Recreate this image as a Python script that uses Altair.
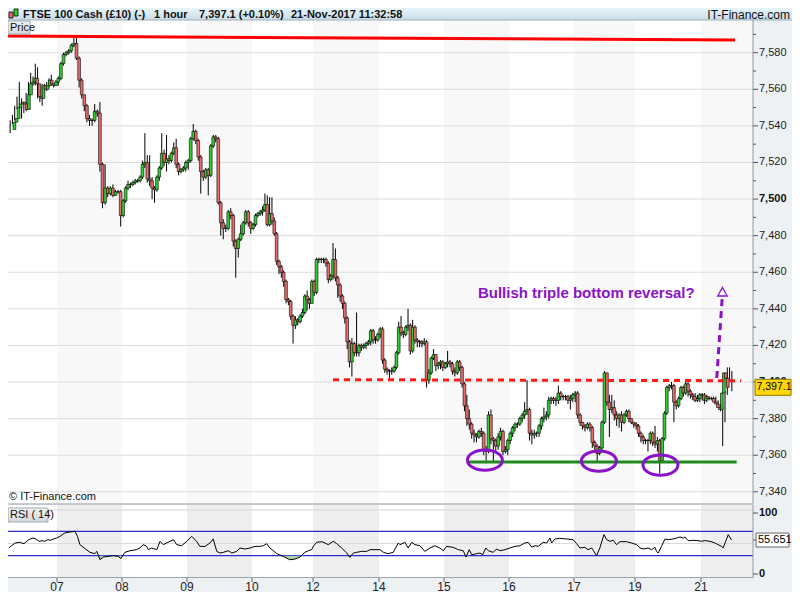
import altair as alt
import pandas as pd

FONT = "Liberation Sans"
PURPLE = "#8a12c8"

# ---------------- text ----------------
header_left = ["FTSE 100 Cash (£10) (-)", "1 hour", "7,397.1 (+0.10%)", "21-Nov-2017 11:32:58"]
header_right = "IT-Finance.com"
panel_price = "Price"
panel_rsi = "RSI ( 14)"
copyright_text = "\u00a9 IT-Finance.com"
note_text = "Bullish triple bottom reversal?"
last_price = 7397.1
last_price_text = "7,397.1"
last_rsi = 55.651
last_rsi_text = "55.651"

# ---------------- hourly candles, one list per day ----------------
day_labels = ["06", "07", "08", "09", "10", "12", "14", "15", "16", "17", "19", "21"]
first_open = 7538

close_06 = [7542, 7544, 7550, 7552, 7553, 7552, 7549, 7557, 7563, 7564, 7566, 7563, 7556, 7555, 7562, 7560, 7562, 7565, 7563, 7562, 7564]
high_06 = [7543, 7546, 7551, 7556, 7564, 7555, 7553, 7558, 7564, 7569, 7567, 7574, 7572, 7562, 7563, 7563, 7564, 7566, 7568, 7563, 7565]
low_06 = [7536, 7541, 7543, 7549, 7550, 7544, 7547, 7548, 7556, 7561, 7562, 7562, 7555, 7553, 7551, 7558, 7559, 7561, 7562, 7561, 7562]

close_07 = [7566, 7574, 7579, 7580, 7581, 7584, 7585, 7577, 7565, 7557, 7551, 7544, 7543, 7543, 7548, 7547, 7519, 7498, 7506, 7503, 7506, 7502, 7504, 7504, 7491]
high_07 = [7567, 7575, 7580, 7581, 7582, 7585, 7589, 7589, 7578, 7566, 7557, 7552, 7546, 7544, 7552, 7549, 7553, 7520, 7519, 7507, 7507, 7508, 7505, 7505, 7505]
low_07 = [7562, 7565, 7573, 7578, 7579, 7580, 7583, 7576, 7561, 7555, 7548, 7542, 7540, 7540, 7542, 7545, 7515, 7495, 7497, 7501, 7502, 7501, 7502, 7503, 7485]

close_08 = [7499, 7506, 7508, 7508, 7509, 7510, 7510, 7512, 7519, 7520, 7511, 7510, 7506, 7505, 7512, 7517, 7525, 7520, 7522, 7521, 7525, 7528, 7519, 7515, 7516, 7517, 7520]
high_08 = [7500, 7507, 7510, 7509, 7510, 7511, 7511, 7513, 7521, 7536, 7524, 7524, 7512, 7507, 7513, 7518, 7536, 7527, 7535, 7524, 7526, 7531, 7533, 7520, 7517, 7518, 7521]
low_08 = [7490, 7498, 7505, 7506, 7507, 7508, 7509, 7509, 7511, 7517, 7509, 7507, 7500, 7498, 7504, 7510, 7516, 7518, 7515, 7519, 7520, 7524, 7517, 7513, 7514, 7515, 7515]

close_09 = [7521, 7533, 7537, 7532, 7523, 7515, 7512, 7516, 7513, 7529, 7534, 7533, 7498, 7487, 7484, 7484, 7493, 7491, 7477, 7473, 7478, 7481, 7487, 7493, 7487, 7484]
high_09 = [7522, 7534, 7541, 7538, 7533, 7524, 7516, 7517, 7517, 7530, 7535, 7535, 7534, 7499, 7489, 7486, 7494, 7495, 7492, 7478, 7479, 7486, 7488, 7494, 7494, 7488]
low_09 = [7516, 7520, 7532, 7530, 7521, 7503, 7510, 7511, 7502, 7512, 7528, 7531, 7497, 7480, 7478, 7482, 7483, 7489, 7474, 7457, 7468, 7477, 7480, 7486, 7485, 7481]

close_10 = [7486, 7491, 7492, 7493, 7494, 7497, 7486, 7492, 7488, 7481, 7466, 7463, 7460, 7455, 7445, 7444, 7436, 7431, 7434, 7433, 7436, 7438, 7447, 7445, 7443, 7455]
high_10 = [7487, 7492, 7493, 7494, 7496, 7503, 7502, 7501, 7501, 7490, 7482, 7467, 7464, 7461, 7456, 7446, 7445, 7437, 7436, 7435, 7437, 7440, 7448, 7450, 7446, 7456]
low_10 = [7483, 7485, 7490, 7491, 7491, 7493, 7485, 7485, 7486, 7480, 7464, 7459, 7457, 7452, 7443, 7442, 7434, 7421, 7429, 7431, 7432, 7435, 7437, 7439, 7440, 7443]

close_12 = [7449, 7467, 7467, 7467, 7467, 7465, 7456, 7458, 7467, 7457, 7453, 7447, 7443, 7435, 7422, 7411, 7421, 7416, 7416, 7420, 7419, 7420, 7421, 7422, 7428, 7423, 7423, 7426]
high_12 = [7456, 7468, 7468, 7468, 7468, 7468, 7466, 7459, 7476, 7473, 7458, 7454, 7448, 7444, 7436, 7423, 7424, 7422, 7438, 7421, 7421, 7421, 7422, 7423, 7429, 7429, 7425, 7427]
low_12 = [7447, 7448, 7465, 7465, 7465, 7463, 7454, 7455, 7456, 7455, 7446, 7444, 7440, 7432, 7418, 7408, 7403, 7414, 7414, 7414, 7417, 7418, 7418, 7420, 7420, 7421, 7421, 7422]

close_14 = [7429, 7412, 7407, 7406, 7406, 7406, 7408, 7416, 7430, 7427, 7426, 7430, 7431, 7417, 7430, 7423, 7422, 7422, 7421, 7422, 7401, 7405, 7413, 7415, 7409, 7410, 7411, 7408]
high_14 = [7430, 7430, 7413, 7408, 7407, 7408, 7409, 7417, 7433, 7436, 7428, 7431, 7440, 7432, 7434, 7431, 7424, 7423, 7423, 7424, 7423, 7407, 7414, 7418, 7415, 7411, 7412, 7412]
low_14 = [7424, 7410, 7405, 7404, 7402, 7404, 7405, 7407, 7415, 7425, 7424, 7425, 7428, 7415, 7416, 7421, 7419, 7419, 7419, 7420, 7397, 7399, 7404, 7412, 7406, 7407, 7407, 7406]

close_15 = [7410, 7411, 7410, 7406, 7405, 7411, 7408, 7399, 7387, 7380, 7377, 7372, 7371, 7370, 7373, 7372, 7363, 7362, 7382, 7369, 7368, 7365, 7370, 7373, 7362, 7363, 7368]
high_15 = [7411, 7417, 7412, 7411, 7408, 7412, 7412, 7409, 7400, 7393, 7385, 7378, 7374, 7372, 7374, 7375, 7373, 7365, 7384, 7385, 7370, 7369, 7372, 7375, 7374, 7365, 7369]
low_15 = [7407, 7408, 7408, 7404, 7403, 7404, 7406, 7397, 7384, 7376, 7374, 7369, 7367, 7367, 7369, 7370, 7360, 7357, 7361, 7366, 7356, 7362, 7363, 7368, 7360, 7361, 7360]

close_16 = [7372, 7375, 7377, 7377, 7380, 7382, 7384, 7385, 7372, 7371, 7372, 7372, 7376, 7380, 7381, 7382, 7390, 7391, 7390, 7390, 7394, 7392, 7392, 7392, 7390, 7391, 7393]
high_16 = [7373, 7376, 7378, 7378, 7381, 7383, 7389, 7401, 7386, 7374, 7374, 7373, 7377, 7381, 7386, 7384, 7392, 7392, 7392, 7392, 7398, 7395, 7393, 7393, 7393, 7393, 7394]
low_16 = [7366, 7370, 7373, 7375, 7376, 7378, 7380, 7382, 7368, 7366, 7369, 7370, 7370, 7374, 7378, 7379, 7380, 7388, 7388, 7387, 7388, 7390, 7390, 7390, 7388, 7385, 7389]

close_17 = [7394, 7382, 7378, 7376, 7375, 7377, 7375, 7367, 7365, 7361, 7364, 7378, 7405, 7389, 7385, 7386, 7382, 7380, 7382, 7378, 7382, 7384, 7380, 7378, 7377]
high_17 = [7395, 7395, 7383, 7378, 7377, 7378, 7378, 7376, 7368, 7366, 7365, 7379, 7406, 7405, 7393, 7393, 7390, 7384, 7383, 7384, 7383, 7385, 7385, 7380, 7378]
low_17 = [7389, 7380, 7376, 7374, 7373, 7374, 7373, 7364, 7362, 7356, 7360, 7362, 7377, 7387, 7370, 7383, 7379, 7376, 7375, 7373, 7377, 7381, 7378, 7377, 7375]

close_19 = [7376, 7372, 7370, 7368, 7368, 7368, 7372, 7367, 7366, 7368, 7357, 7369, 7383, 7397, 7398, 7398, 7389, 7387, 7391, 7397, 7394, 7399, 7395, 7393, 7392, 7390, 7391, 7393]
high_19 = [7378, 7377, 7373, 7371, 7369, 7369, 7373, 7373, 7376, 7370, 7369, 7370, 7384, 7398, 7399, 7400, 7399, 7390, 7392, 7398, 7398, 7400, 7400, 7396, 7394, 7394, 7393, 7394]
low_19 = [7374, 7370, 7367, 7366, 7366, 7362, 7366, 7365, 7364, 7362, 7350, 7356, 7368, 7382, 7395, 7396, 7378, 7385, 7386, 7390, 7392, 7393, 7392, 7391, 7390, 7389, 7389, 7389]

close_21 = [7393, 7390, 7392, 7391, 7391, 7391, 7389, 7388, 7386, 7385, 7394, 7405, 7402, 7397.1]
high_21 = [7394, 7394, 7393, 7392, 7392, 7392, 7392, 7390, 7388, 7387, 7395, 7408, 7408, 7406]
low_21 = [7390, 7388, 7389, 7390, 7390, 7390, 7388, 7386, 7384, 7365, 7378, 7393, 7400, 7395]

days = [
    (close_06, high_06, low_06), (close_07, high_07, low_07), (close_08, high_08, low_08),
    (close_09, high_09, low_09), (close_10, high_10, low_10), (close_12, high_12, low_12),
    (close_14, high_14, low_14), (close_15, high_15, low_15), (close_16, high_16, low_16),
    (close_17, high_17, low_17), (close_19, high_19, low_19), (close_21, high_21, low_21),
]

# ---------------- RSI(14) (hour index, value) ----------------
rsi_hour_a = [0, 0.7, 2.6, 4.4, 6.2, 8.1, 9.9, 11.1, 12.4, 13.6, 14.8, 16, 17.2, 18.4, 19.7, 20.9, 22.7, 24.6, 26.4, 27.3,
              28.2, 30.1, 31.9, 33.7, 34.4, 35.6, 36.8, 38.6, 40.4, 42.3, 43.2, 44.7, 46.6, 49, 50.2, 51.4, 52.7, 53.3, 54.5, 56.4,
              57.6, 58.8, 60, 62.5, 63.7, 65.5, 67.4, 69.2, 71, 72.2, 74.1, 75.9, 77.1, 78.4, 79.6, 80.8, 82.6, 83.9, 85.7, 86.9,
              88.7, 90.6, 92.4, 94.2, 95.5, 96.7, 97.9, 100.4, 102.8, 105.2, 107.1, 108.9, 110.7, 112, 113.2, 113.8, 115, 116.9, 118.1, 119.3,
              121.1, 122.4, 124.2, 126.1, 127.2, 128.5, 129.7, 131.5, 133.4, 134.6, 136.4, 138.3, 139.5, 141.3, 143.1, 145]
rsi_val_a = [42.6, 45.3, 50.8, 51.9, 49.7, 56.3, 59, 57.4, 53.6, 54.7, 53.6, 56.3, 55.2, 57.4, 59, 61.8, 67.3, 68.9, 70, 61.8,
             48.1, 41.5, 35.5, 33.3, 37.1, 23.4, 27.8, 28.9, 30, 28.9, 25.1, 35.5, 38.2, 39.9, 42.6, 48.1, 45.3, 39.9, 42.6, 39.9,
             53.6, 48.1, 50.8, 56.3, 48.1, 46.4, 53.6, 61.8, 53.6, 45.3, 45.3, 50.8, 57.4, 37.1, 34.4, 35.5, 38.2, 34.4, 37.1, 42.6,
             41, 42.6, 45.3, 45.3, 46.4, 49.7, 42.6, 33.3, 28.9, 23.4, 24.5, 27.8, 35.5, 38.2, 39.9, 45.3, 51.9, 53, 50.8, 48.1,
             53.6, 49.7, 42.6, 34.4, 27.3, 34.4, 35.5, 37.1, 37.1, 39.9, 39.9, 39.9, 35.5, 33.3, 35.5, 50.8]
rsi_hour_b = [145.6, 147.4, 148.6, 149.9, 151.1, 152.9, 154.7, 156.6, 158.4, 160.2, 161.5, 162.7, 165.1, 167, 168.8, 169.8, 171, 171.9, 173.7, 174.9,
              175.9, 177.1, 178, 179.8, 181, 182.3, 184.1, 185.9, 187.8, 189.6, 191.4, 192.6, 193.9, 195.1, 196.3, 198.1, 199.4, 200.6, 201.2, 202.4,
              204.2, 206.7, 209.1, 210.4, 211.6, 213.4, 214.6, 215.9, 216.5, 217.7, 218.9, 220.4, 221.4, 222.6, 223.8, 225, 226.3, 228.7, 230.5, 232.4,
              233.6, 234.8, 236.6, 237.9, 239.1, 239.7, 240.3, 241.5, 242.8, 244, 245.8, 247.1, 248.3, 249.5, 250.1, 251.3, 253.1, 255, 256.2, 257.4,
              259.3, 261.1, 262.3, 263.6, 264.1, 266, 267.2]
rsi_val_b = [48.1, 51.9, 42.6, 51.9, 48.1, 46.4, 37.1, 42.6, 46.4, 42.6, 38.2, 45.3, 43.7, 39.9, 38.2, 27.8, 39.9, 31.6, 33.3, 34.4,
             31.6, 42.6, 38.2, 35.5, 41, 38.2, 39.9, 42.6, 45.3, 46.4, 50.8, 51.9, 44.2, 46.4, 45.3, 51.9, 50.8, 59, 50.8, 57.4,
             58.5, 57.4, 56.3, 49.7, 42.6, 43.7, 39.9, 42.6, 38.8, 30, 42.6, 64.5, 56.3, 53.6, 55.2, 48.1, 53, 53, 50.8, 48.1,
             42.6, 41, 42.6, 39.9, 43.7, 37.1, 34.4, 45.3, 57.4, 56.3, 57.4, 59, 60.7, 59, 60.7, 54.7, 55.2, 54.7, 53.6, 54.7,
             53.6, 50.8, 48.1, 45.3, 42.6, 64.5, 55.7]

# ---------------- axis values ----------------
price_levels = [7340, 7360, 7380, 7400, 7420, 7440, 7460, 7480, 7500, 7520, 7540, 7560, 7580]
price_minor = [7350, 7370, 7390, 7410, 7430, 7450, 7470, 7490, 7510, 7530, 7550, 7570, 7590]
rsi_bounds = [30, 70]
rsi_mid = [50]
rsi_ticks = [0, 100]

# ---------------- annotations (candle slot, price) ----------------
top_line_slot = [-0.4, 302.9]
top_line_price = [7589.1, 7586.9]
neck_slot = [133.5, 305.5]
neck_price = [7401.3, 7400.7]
base_slot = [190.6, 303.6]
base_price = [7356.3, 7356.3]
circle_slot = [198.0, 245.2, 270.8]
circle_price = [7357.3, 7356.8, 7354.6]
arrow_slot = [294.9, 297.3]
arrow_price = [7402.2, 7446.4]
arrow_head_slot = [297.4]
arrow_head_price = [7449.1]
note_slot = [195.1]
note_price = [7448.6]

# ---------------- tables ----------------
rows = []
prev = first_open
n = 0
seg_edges = [0]
for cs, hs, ls in days:
    for c, h, l in zip(cs, hs, ls):
        rows.append(dict(slot=n + 0.5, open=prev, close=c, high=max(h, prev, c), low=min(l, prev, c),
                         dir="up" if c >= prev else "down"))
        prev = c
        n += 1
    seg_edges.append(n)
cdf = pd.DataFrame(rows)

# layout (pixels in chart space); whole chart = 784 x 584 so the page is 800 x 600
PW = 745           # plot width (right price axis line)
TOTAL_W = 784
seg_px = [1, 49, 114, 179, 244, 305, 371, 436, 501, 566, 627, 693, 725]
edge_slot = seg_edges[-1] + (PW - seg_px[-1]) * (seg_edges[-1] - seg_edges[-2]) / (seg_px[-1] - seg_px[-2])

xs = alt.Scale(domain=seg_edges, range=seg_px, nice=False, zero=False)
rxs = alt.Scale(domain=[0, 19.8, 256], range=[1, 49, 693], nice=False, zero=False)
ps = alt.Scale(domain=[7340, 7580], range=[483.8, 44.7], nice=False, zero=False)
rs = alt.Scale(domain=[0, 100], range=[566, 505], nice=False, zero=False)

bands = []
for j in range(1, len(seg_edges) - 1, 2):
    s1 = seg_edges[j + 1] if j + 1 < len(seg_edges) - 1 else edge_slot
    bands.append(dict(s0=seg_edges[j], s1=s1))
band_df = pd.DataFrame(bands)

day_df = pd.DataFrame({"slot": seg_edges[1:-1], "label": day_labels[1:]})
lvl_df = pd.DataFrame({"level": price_levels, "label": [f"{v:,}" for v in price_levels]})
minor_df = pd.DataFrame({"level": price_minor})
rsi_df = pd.DataFrame({"hour": rsi_hour_a + rsi_hour_b, "v": rsi_val_a + rsi_val_b})
rsi_df["lo"] = rsi_df["v"].clip(upper=30)
one = pd.DataFrame({"k": [0]})


def X(field="slot"):
    return alt.X(f"{field}:Q", scale=xs, axis=None)


def Yp(field):
    return alt.Y(f"{field}:Q", scale=ps, axis=None)


def Yr(field):
    return alt.Y(f"{field}:Q", scale=rs, axis=None)


def box(x0, x1, y0, y1, **kw):
    return alt.Chart(one).mark_rect(**kw).encode(
        x=alt.value(x0), x2=alt.value(x1), y=alt.value(y0), y2=alt.value(y1))


def hline(y, x0, x1, color, w=1):
    return alt.Chart(one).mark_rule(color=color, strokeWidth=w).encode(
        x=alt.value(x0), x2=alt.value(x1), y=alt.value(y))


def vline(x, y0, y1, color, w=1):
    return alt.Chart(one).mark_rule(color=color, strokeWidth=w).encode(
        x=alt.value(x), y=alt.value(y0), y2=alt.value(y1))


def label(txt, x, y, **kw):
    base = dict(font=FONT, fontSize=11, color="#111", align="left", baseline="middle")
    base.update(kw)
    return alt.Chart(one).mark_text(text=txt, **base).encode(x=alt.value(x), y=alt.value(y))


layers = []
# panels
layers.append(box(0, PW, 12, 496, color="#ffffff"))
layers.append(box(0, PW, 497, 569, color="#ffffff"))
# day bands
layers.append(alt.Chart(band_df).mark_rect(color="#f8f8f8").encode(
    x=X("s0"), x2="s1", y=alt.value(12), y2=alt.value(496)))
layers.append(alt.Chart(band_df).mark_rect(color="#eeeeee").encode(
    x=X("s0"), x2="s1", y=alt.value(497), y2=alt.value(569)))
# price grid
layers.append(alt.Chart(lvl_df).mark_rule(color="#dcdcdc", strokeWidth=1).encode(
    x=alt.value(0), x2=alt.value(PW), y=Yp("level")))
# RSI grid
layers.append(hline(502, 0, PW, "#d6d6d6"))
layers.append(alt.Chart(pd.DataFrame({"v": rsi_mid})).mark_rule(color="#dadada").encode(
    x=alt.value(0), x2=alt.value(PW), y=Yr("v")))
layers.append(alt.Chart(pd.DataFrame({"v": rsi_bounds})).mark_rule(color="#2b2bd0", strokeWidth=1.2).encode(
    x=alt.value(0), x2=alt.value(PW), y=Yr("v")))
layers.append(alt.Chart(rsi_df).mark_area(color="#9fd49f", opacity=0.9).encode(
    x=alt.X("hour:Q", scale=rxs, axis=None), y=Yr("lo"), y2=alt.datum(30)))
layers.append(alt.Chart(rsi_df).mark_line(color="#000000", strokeWidth=1).encode(
    x=alt.X("hour:Q", scale=rxs, axis=None), y=Yr("v")))

# candles
layers.append(alt.Chart(cdf).mark_rule(color="#000000", strokeWidth=1).encode(
    x=X(), y=Yp("low"), y2="high"))
layers.append(alt.Chart(cdf).mark_bar(size=2.7, stroke="#000000", strokeWidth=0.6).encode(
    x=X(), y=Yp("open"), y2="close",
    color=alt.Color("dir:N", scale=alt.Scale(domain=["up", "down"], range=["#2fd12f", "#ea6b6b"]), legend=None)))

# annotations
layers.append(alt.Chart(pd.DataFrame({"slot": top_line_slot, "p": top_line_price})).mark_line(
    color="#ff0000", strokeWidth=3).encode(x=X(), y=Yp("p")))
layers.append(alt.Chart(pd.DataFrame({"slot": neck_slot, "p": neck_price})).mark_line(
    color="#ff1a1a", strokeWidth=3, strokeDash=[6, 5]).encode(x=X(), y=Yp("p")))
layers.append(alt.Chart(pd.DataFrame({"slot": base_slot, "p": base_price})).mark_line(
    color="#1f8a1f", strokeWidth=3).encode(x=X(), y=Yp("p")))
layers.append(alt.Chart(pd.DataFrame({"slot": circle_slot, "p": circle_price})).mark_point(
    shape="M -1 0 A 1 0.58 0 1 1 1 0 A 1 0.58 0 1 1 -1 0 Z", size=1225, filled=False,
    color=PURPLE, strokeWidth=3, opacity=1).encode(x=X(), y=Yp("p")))
layers.append(alt.Chart(pd.DataFrame({"slot": arrow_slot, "p": arrow_price})).mark_line(
    color=PURPLE, strokeWidth=3, strokeDash=[7, 5]).encode(x=X(), y=Yp("p")))
layers.append(alt.Chart(pd.DataFrame({"slot": arrow_head_slot, "p": arrow_head_price})).mark_point(
    shape="M 0 -1 L 1 0.8 L -1 0.8 Z", size=90, filled=False, color=PURPLE, strokeWidth=1.3, opacity=1).encode(
    x=X(), y=Yp("p")))
layers.append(alt.Chart(pd.DataFrame({"slot": note_slot, "p": note_price})).mark_text(
    text=note_text, align="left", baseline="middle", font=FONT, fontSize=15, fontWeight="bold",
    color=PURPLE).encode(x=X(), y=Yp("p")))

# header
header_fill = alt.LinearGradient(gradient="linear", x1=0, x2=0, y1=0, y2=1,
                                 stops=[alt.GradientStop(color="#e8f5fb", offset=0),
                                        alt.GradientStop(color="#c9dce8", offset=1)])
layers.append(box(0, TOTAL_W, 0, 12, fill=header_fill))
layers.append(hline(12, 0, TOTAL_W, "#9fb0bc"))
for txt, xpos in zip(header_left, [15, 146, 191, 283]):
    layers.append(label(txt, xpos, 6.5, fontWeight="bold", color="#111111"))
layers.append(label(header_right, 782, 6.5, align="right", fontSize=12, color="#111111"))
layers.append(box(1, 5, 4, 10, color="#ea6b6b", stroke="#000", strokeWidth=0.8))
layers.append(box(6, 10, 1, 8, color="#2fd12f", stroke="#000", strokeWidth=0.8))

# frame lines
layers.append(vline(PW, 12, 496, "#8e9aa3"))
layers.append(vline(PW, 497, 570, "#8e9aa3"))
layers.append(hline(496, 0, PW, "#8e9aa3"))
layers.append(hline(569.5, 0, PW, "#9aa4ab"))

# price axis
layers.append(alt.Chart(lvl_df).mark_rule(color="#555", strokeWidth=1).encode(
    x=alt.value(PW), x2=alt.value(PW + 5), y=Yp("level")))
layers.append(alt.Chart(minor_df).mark_rule(color="#555", strokeWidth=1).encode(
    x=alt.value(PW), x2=alt.value(PW + 3), y=Yp("level")))
layers.append(alt.Chart(lvl_df).transform_filter("datum.level % 100 != 0").mark_text(
    align="left", baseline="middle", font=FONT, fontSize=11, color="#222").encode(
    x=alt.value(751), y=Yp("level"), text="label:N"))
layers.append(alt.Chart(lvl_df).transform_filter("datum.level % 100 == 0").mark_text(
    align="left", baseline="middle", font=FONT, fontSize=11, fontWeight="bold", color="#111").encode(
    x=alt.value(751), y=Yp("level"), text="label:N"))
lp_df = pd.DataFrame({"p": [last_price], "t": [last_price_text]})
layers.append(alt.Chart(lp_df).mark_rect(color="#ffd60a", stroke="#8f7a00", strokeWidth=1,
                                         yOffset=-8, y2Offset=8).encode(
    x=alt.value(747), x2=alt.value(783), y=Yp("p"), y2="p"))
layers.append(alt.Chart(lp_df).mark_text(align="left", baseline="middle", font=FONT, fontSize=10.5,
                                         color="#000").encode(x=alt.value(748.5), y=Yp("p"), text="t:N"))

# RSI axis
rt_df = pd.DataFrame({"v": rsi_ticks, "t": [str(v) for v in rsi_ticks]})
layers.append(alt.Chart(rt_df).mark_rule(color="#555").encode(
    x=alt.value(PW), x2=alt.value(PW + 5), y=Yr("v")))
layers.append(alt.Chart(rt_df).mark_text(align="left", baseline="middle", font=FONT, fontSize=11,
                                         fontWeight="bold", color="#111").encode(
    x=alt.value(751), y=Yr("v"), text="t:N"))
lr_df = pd.DataFrame({"v": [last_rsi], "t": [last_rsi_text]})
layers.append(alt.Chart(lr_df).mark_rule(color="#555").encode(
    x=alt.value(PW), x2=alt.value(PW + 5), y=Yr("v")))
layers.append(alt.Chart(lr_df).mark_rect(color="#ffffff", stroke="#6b6b6b", strokeWidth=1,
                                         yOffset=-7, y2Offset=7).encode(
    x=alt.value(748), x2=alt.value(781), y=Yr("v"), y2="v"))
layers.append(alt.Chart(lr_df).mark_text(align="left", baseline="middle", font=FONT, fontSize=11,
                                         color="#000").encode(x=alt.value(750), y=Yr("v"), text="t:N"))

# time axis
layers.append(alt.Chart(day_df).mark_rule(color="#666").encode(x=X(), y=alt.value(570), y2=alt.value(574)))
layers.append(alt.Chart(day_df).mark_text(align="center", baseline="alphabetic", font=FONT, fontSize=12,
                                          color="#222").encode(x=X(), y=alt.value(582.5), text="label:N"))

# panel captions
cap_fill = alt.LinearGradient(gradient="linear", x1=0, x2=0, y1=0, y2=1,
                              stops=[alt.GradientStop(color="#eef1f3", offset=0),
                                     alt.GradientStop(color="#d3d9dd", offset=1)])
layers.append(box(0, 22, 13, 26, fill=cap_fill, stroke="#a3abb1", strokeWidth=1))
layers.append(label(panel_price, 2, 19.5))
layers.append(box(0, 40, 500, 514, fill=cap_fill, stroke="#a3abb1", strokeWidth=1))
layers.append(label(panel_rsi, 2, 507))
layers.append(label(copyright_text, 1, 489))

chart = alt.layer(*layers).resolve_scale(x="independent", y="independent").properties(
    width=PW, height=570,
    autosize=alt.AutoSizeParams(type="none"),
    padding={"left": 0, "top": 0, "right": TOTAL_W - PW, "bottom": 14},
    background="#eef1f3",
).configure_view(strokeWidth=0)

chart.save("out.html", embed_options={"renderer": "svg", "actions": False})
